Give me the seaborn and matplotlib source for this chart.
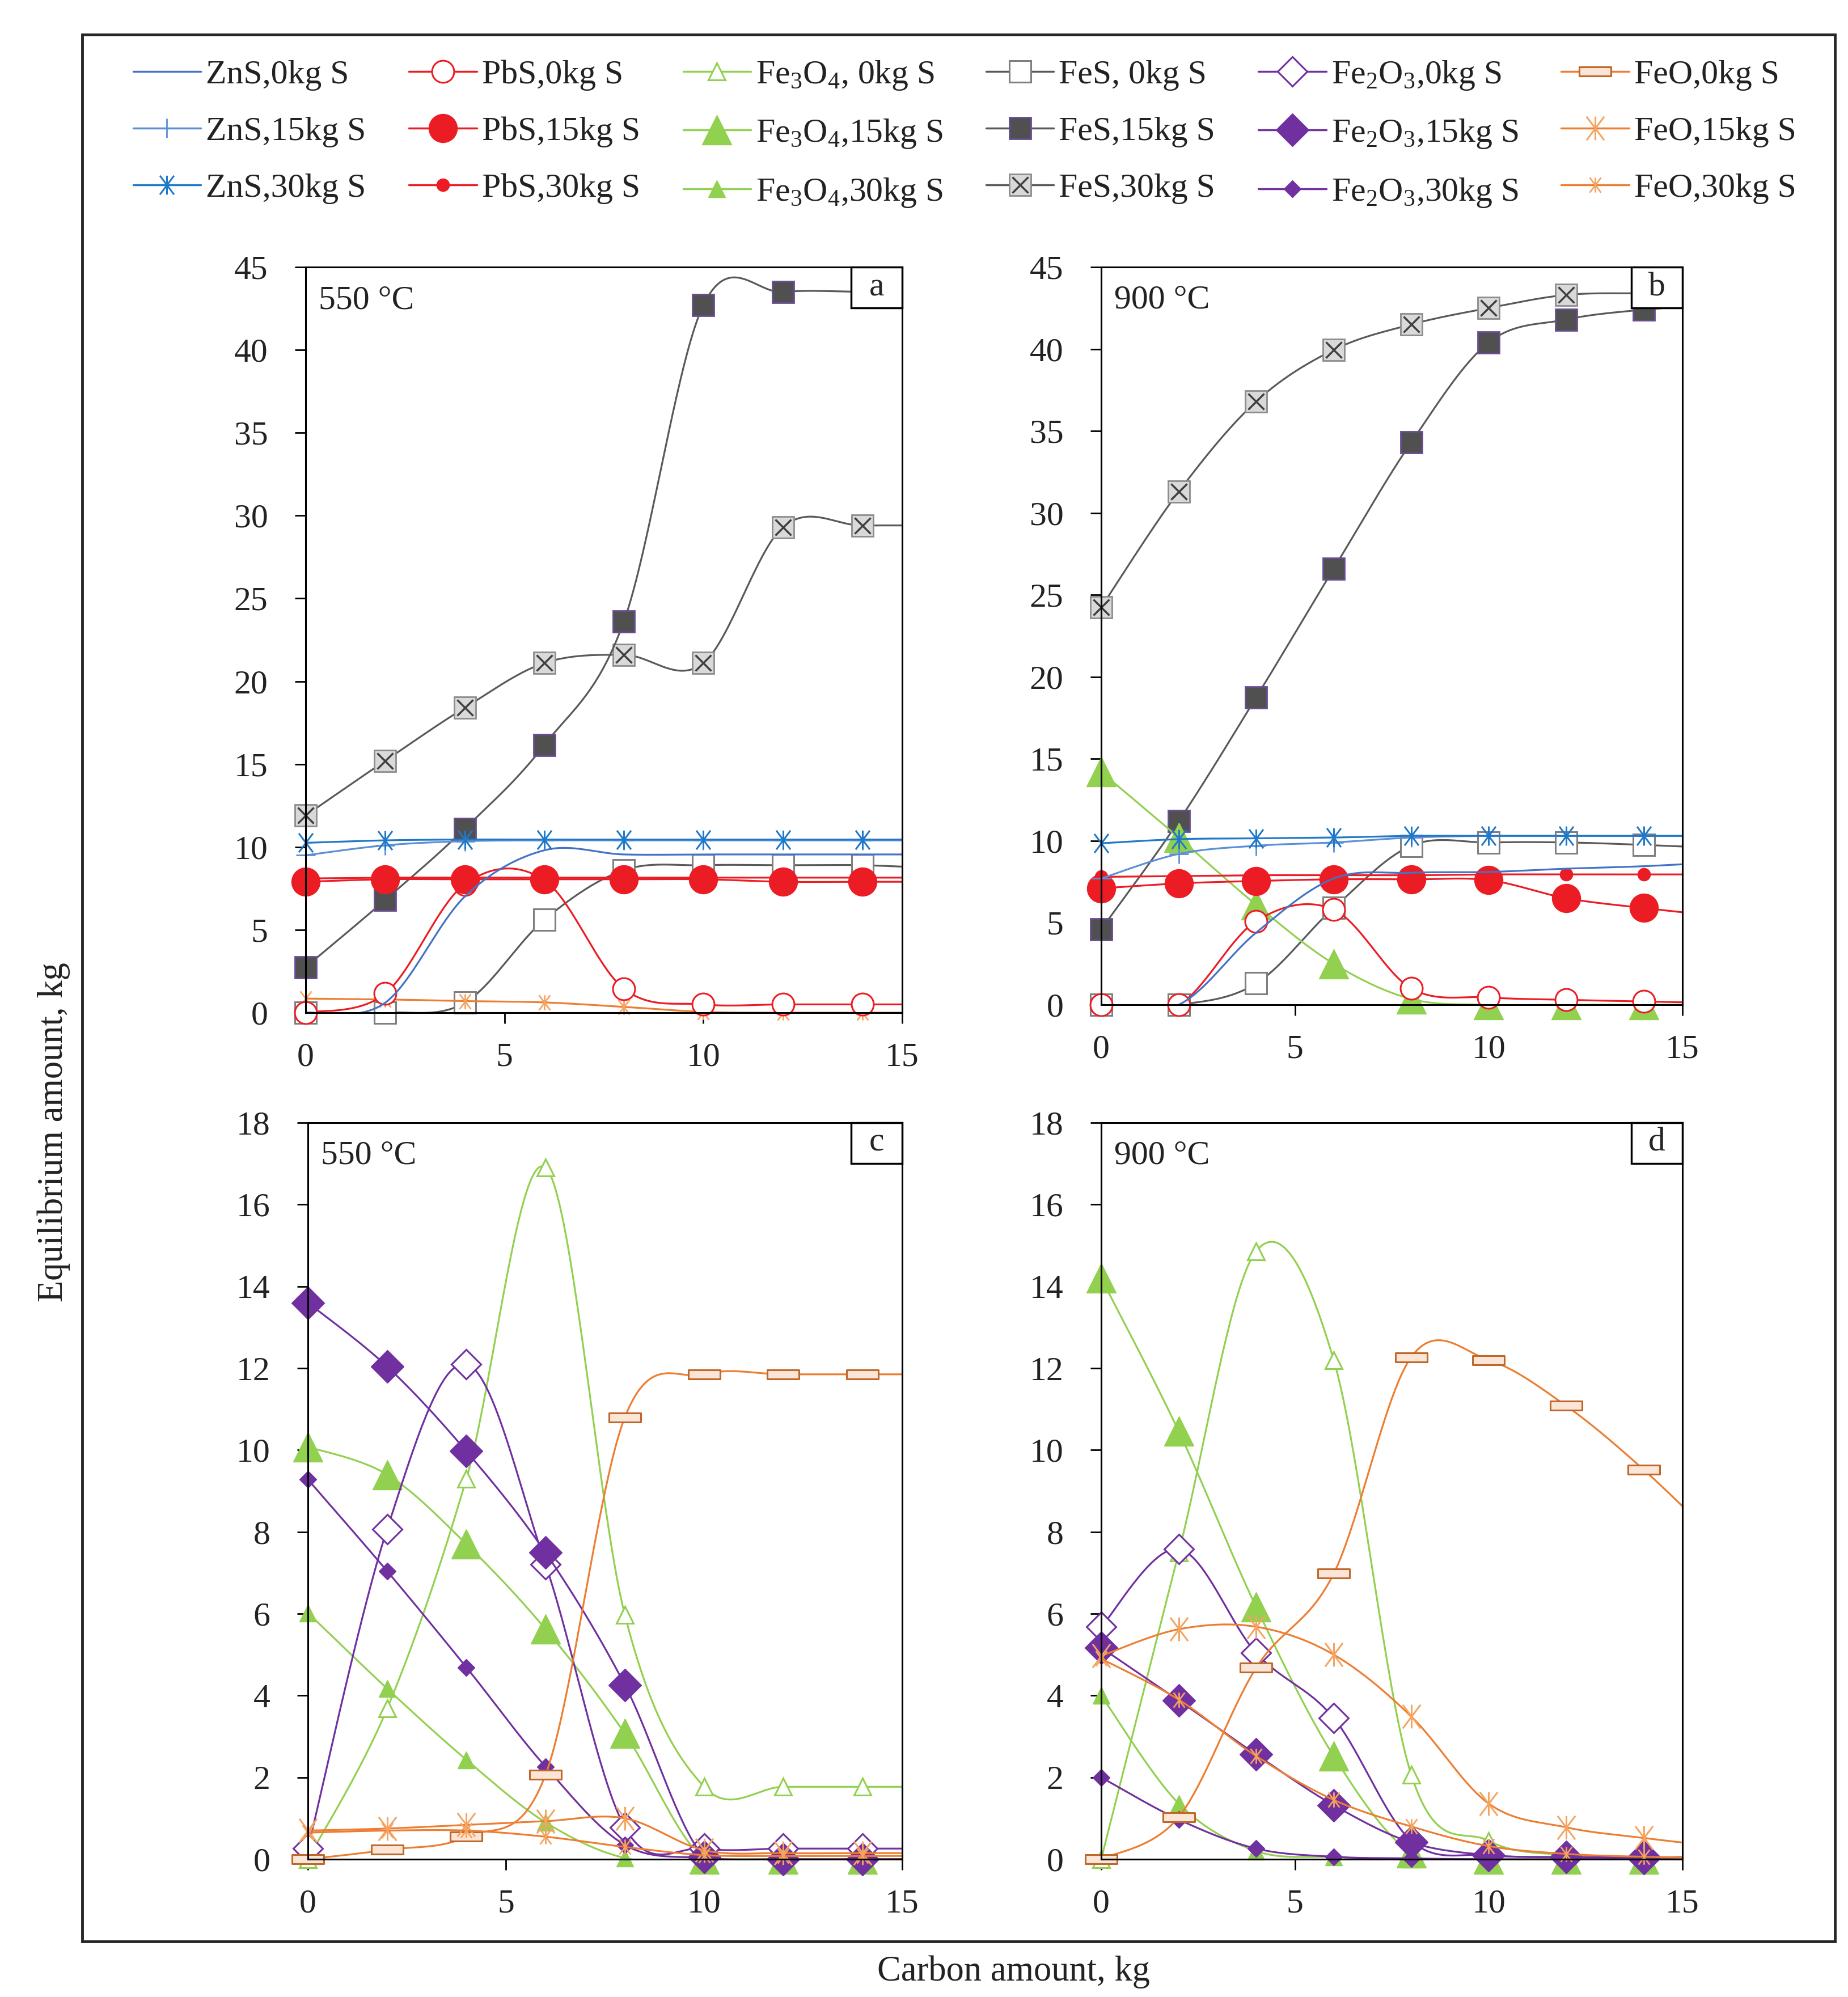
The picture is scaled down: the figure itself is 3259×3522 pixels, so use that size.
import numpy as np
import seaborn as sns
import matplotlib.pyplot as plt
from matplotlib.path import Path
from matplotlib.lines import Line2D
from matplotlib.patches import Rectangle

sns.set_style("white")
plt.rcParams['font.family'] = ['Liberation Serif', 'DejaVu Serif']
plt.rcParams['mathtext.fontset'] = 'custom'
plt.rcParams['mathtext.rm'] = 'Liberation Serif'

# carbon amount, kg (last point lies beyond the 15 kg axis limit)
carbon = [0, 2, 4, 6, 8, 10, 12, 14, 16]

# ---- a: 550 C, sulfides ----
a_zns0 = [0, 0.6, 7.0, 9.8, 9.55, 9.55, 9.55, 9.55, 9.55]
a_zns15 = [9.5, 10.1, 10.35, 10.4, 10.4, 10.4, 10.4, 10.4, 10.4]
a_zns30 = [10.25, 10.4, 10.45, 10.45, 10.45, 10.45, 10.45, 10.45, 10.45]
a_pbs0 = [0, 1.15, 7.75, 8.0, 1.45, 0.5, 0.5, 0.5, 0.5]
a_pbs15 = [7.9, 8.05, 8.05, 8.05, 8.05, 8.05, 7.9, 7.9, 7.9]
a_pbs30 = [8.1, 8.15, 8.15, 8.15, 8.15, 8.15, 8.15, 8.15, 8.15]
a_fes0 = [0, 0, 0.6, 5.6, 8.6, 8.9, 8.9, 8.9, 8.7]
a_fes15 = [2.75, 6.8, 11.1, 16.15, 23.6, 42.7, 43.5, 43.5, 43.4]
a_fes30 = [11.9, 15.2, 18.4, 21.1, 21.6, 21.1, 29.3, 29.4, 29.4]
a_feo30 = [0.85, 0.8, 0.7, 0.62, 0.35, 0.05, 0, 0, 0]

# ---- b: 900 C, sulfides ----
b_zns0 = [0, 0, 4.4, 7.7, 8.05, 8.1, 8.3, 8.45, 8.7]
b_zns15 = [7.7, 9.2, 9.7, 9.9, 10.2, 10.3, 10.3, 10.3, 10.3]
b_zns30 = [9.85, 10.1, 10.15, 10.2, 10.3, 10.3, 10.3, 10.3, 10.3]
b_pbs0 = [0, 0, 5.1, 5.8, 1.0, 0.45, 0.3, 0.2, 0.1]
b_pbs15 = [7.1, 7.4, 7.55, 7.65, 7.65, 7.6, 6.5, 5.9, 5.4]
b_pbs30 = [7.8, 7.85, 7.9, 7.9, 7.9, 7.95, 7.95, 7.95, 7.95]
b_fe3o4_15 = [14.2, 10.2, 6.1, 2.5, 0.35, 0, 0, 0, 0]
b_fes0 = [0, 0, 1.3, 5.9, 9.7, 9.9, 9.9, 9.75, 9.55]
b_fes15 = [4.6, 11.2, 18.75, 26.6, 34.3, 40.4, 41.8, 42.4, 42.7]
b_fes30 = [24.25, 31.3, 36.8, 39.95, 41.5, 42.5, 43.3, 43.4, 43.4]

# ---- c: 550 C, iron oxides ----
c_fe3o4_0 = [0, 3.68, 9.3, 16.9, 5.97, 1.77, 1.77, 1.77, 1.77]
c_fe3o4_15 = [10.08, 9.4, 7.7, 5.62, 3.07, 0, 0, 0, 0]
c_fe3o4_30 = [6.02, 4.17, 2.43, 0.9, 0.03, 0, 0, 0, 0]
c_fe2o3_0 = [0.26, 8.07, 12.1, 7.2, 0.78, 0.26, 0.26, 0.26, 0.26]
c_fe2o3_15 = [13.6, 12.04, 9.97, 7.49, 4.26, 0.05, 0, 0, 0]
c_fe2o3_30 = [9.28, 7.04, 4.69, 2.26, 0.35, 0.03, 0, 0, 0]
c_feo0 = [0, 0.23, 0.55, 2.07, 10.8, 11.85, 11.85, 11.85, 11.85]
c_feo15 = [0.7, 0.75, 0.84, 0.93, 1.0, 0.22, 0.15, 0.15, 0.15]
c_feo30 = [0.65, 0.7, 0.7, 0.55, 0.3, 0.1, 0.08, 0.08, 0.08]

# ---- d: 900 C, iron oxides ----
d_fe3o4_0 = [0, 7.49, 14.86, 12.2, 2.07, 0.45, 0.1, 0.05, 0]
d_fe3o4_15 = [14.2, 10.46, 6.16, 2.52, 0.15, 0, 0, 0, 0]
d_fe3o4_30 = [4.0, 1.36, 0.2, 0.05, 0, 0, 0, 0, 0]
d_fe2o3_0 = [5.68, 7.58, 5.04, 3.45, 0.45, 0.1, 0.05, 0, 0]
d_fe2o3_15 = [5.17, 3.88, 2.56, 1.32, 0.41, 0.1, 0.05, 0.05, 0.05]
d_fe2o3_30 = [2.0, 0.97, 0.26, 0.06, 0.02, 0, 0, 0, 0]
d_feo0 = [0, 1.03, 4.68, 6.98, 12.27, 12.2, 11.08, 9.52, 7.7]
d_feo15 = [4.97, 5.62, 5.68, 5.0, 3.49, 1.36, 0.78, 0.52, 0.3]
d_feo30 = [4.9, 3.9, 2.52, 1.45, 0.8, 0.32, 0.13, 0.06, 0.03]

# custom marker shapes
star = Path([(0, -1), (0, 1), (-0.75, -1), (0.75, 1), (-0.75, 1), (0.75, -1)],
            [Path.MOVETO, Path.LINETO] * 3)
bar = Path([(-1, -0.28), (1, -0.28), (1, 0.28), (-1, 0.28), (-1, -0.28)],
           [Path.MOVETO, Path.LINETO, Path.LINETO, Path.LINETO, Path.CLOSEPOLY])

blue0, blue15, blue30 = '#4472c4', '#5b8fd6', '#1f78c8'
red = '#ec1c24'
green = '#92d050'
grey = '#595959'
purple = '#7030a0'
orange = '#ed7d31'
lorange = '#f4a460'

# series styles: label, line colour, list of marker layers
styles = {
    'zns0': ('ZnS,0kg S', blue0, []),
    'zns15': ('ZnS,15kg S', blue15, [dict(marker='+', ms=24, mec=blue15, mew=2)]),
    'zns30': ('ZnS,30kg S', blue30, [dict(marker=star, ms=24, mec=blue30, mfc='none', mew=2.2)]),
    'pbs0': ('PbS,0kg S', red, [dict(marker='o', ms=28, mec=red, mfc='white', mew=2.2)]),
    'pbs15': ('PbS,15kg S', red, [dict(marker='o', ms=36, mec=red, mfc=red, mew=1)]),
    'pbs30': ('PbS,30kg S', red, [dict(marker='o', ms=16, mec=red, mfc=red, mew=1)]),
    'fe3o4_0': ('Fe$_\\mathregular{3}$O$_\\mathregular{4}$, 0kg S', green,
                [dict(marker='^', ms=22, mec=green, mfc='white', mew=2.2)]),
    'fe3o4_15': ('Fe$_\\mathregular{3}$O$_\\mathregular{4}$,15kg S', green,
                 [dict(marker='^', ms=38, mec=green, mfc=green, mew=1)]),
    'fe3o4_30': ('Fe$_\\mathregular{3}$O$_\\mathregular{4}$,30kg S', green,
                 [dict(marker='^', ms=22, mec=green, mfc=green, mew=1)]),
    'fes0': ('FeS, 0kg S', grey, [dict(marker='s', ms=28, mec='#7f7f7f', mfc='white', mew=2.2)]),
    'fes15': ('FeS,15kg S', grey, [dict(marker='s', ms=28, mec='#6a4c93', mfc='#505050', mew=2)]),
    'fes30': ('FeS,30kg S', grey, [dict(marker='s', ms=28, mec='#8c8c8c', mfc='#d9d9d9', mew=2),
                                   dict(marker='x', ms=20, mec='#3f3f3f', mew=2.5)]),
    'fe2o3_0': ('Fe$_\\mathregular{2}$O$_\\mathregular{3}$,0kg S', purple,
                [dict(marker='D', ms=26, mec=purple, mfc='white', mew=2.2)]),
    'fe2o3_15': ('Fe$_\\mathregular{2}$O$_\\mathregular{3}$,15kg S', purple,
                 [dict(marker='D', ms=30, mec=purple, mfc=purple, mew=1)]),
    'fe2o3_30': ('Fe$_\\mathregular{2}$O$_\\mathregular{3}$,30kg S', purple,
                 [dict(marker='D', ms=15, mec=purple, mfc=purple, mew=1)]),
    'feo0': ('FeO,0kg S', orange, [dict(marker=bar, ms=40, mec='#c0672a', mfc='#fbe5d6', mew=2.2)]),
    'feo15': ('FeO,15kg S', orange, [dict(marker=star, ms=30, mec=lorange, mfc='none', mew=2.2)]),
    'feo30': ('FeO,30kg S', orange, [dict(marker=star, ms=19, mec=lorange, mfc='none', mew=2)]),
}


def smooth(xs, ys, n=40):
    # Excel-like smoothed line: Catmull-Rom control points, cubic Bezier segments
    px = np.concatenate([[xs[0]], xs, [xs[-1]]]).astype(float)
    py = np.concatenate([[ys[0]], ys, [ys[-1]]]).astype(float)
    t = np.linspace(0, 1, n)[:, None]
    out = []
    for i in range(len(xs) - 1):
        p0 = np.array([px[i], py[i]])
        p1 = np.array([px[i + 1], py[i + 1]])
        p2 = np.array([px[i + 2], py[i + 2]])
        p3 = np.array([px[i + 3], py[i + 3]])
        c1 = p1 + (p2 - p0) / 6
        c2 = p2 - (p3 - p1) / 6
        seg = ((1 - t) ** 3) * p1 + 3 * ((1 - t) ** 2) * t * c1 + 3 * (1 - t) * t ** 2 * c2 + t ** 3 * p2
        out.append(seg)
    out = np.vstack(out)
    return out[:, 0], out[:, 1]


def draw(ax, series):
    x = np.array(carbon, float)
    for k, (key, vals) in enumerate(series):
        label, col, layers = styles[key]
        y = np.array(vals, float)
        sx, sy = smooth(x, y)
        z = 2 + k * 0.02
        sns.lineplot(x=sx, y=sy, ax=ax, color=col, linewidth=2.3, estimator=None,
                     sort=False, legend=False, zorder=z)
        keep = x <= 15
        for lay in layers:
            ax.plot(x[keep], y[keep], linestyle='none', clip_on=False, zorder=z + 0.01, **lay)


fig = plt.figure(figsize=(32.59, 35.22), dpi=100)
W, H = 3259, 3522

panels = [
    ('a', '550 °C', [539, 1591, 471, 1786], 45, 5,
     [('fes30', a_fes30), ('fes15', a_fes15), ('fes0', a_fes0), ('feo30', a_feo30),
      ('pbs0', a_pbs0), ('pbs15', a_pbs15), ('pbs30', a_pbs30),
      ('zns0', a_zns0), ('zns15', a_zns15), ('zns30', a_zns30)]),
    ('b', '900 °C', [1942, 2967, 471, 1772], 45, 5,
     [('fes30', b_fes30), ('fes15', b_fes15), ('fes0', b_fes0), ('fe3o4_15', b_fe3o4_15),
      ('pbs0', b_pbs0), ('pbs15', b_pbs15), ('pbs30', b_pbs30),
      ('zns0', b_zns0), ('zns15', b_zns15), ('zns30', b_zns30)]),
    ('c', '550 °C', [543, 1591, 1980, 3279], 18, 2,
     [('fe3o4_0', c_fe3o4_0), ('fe3o4_15', c_fe3o4_15), ('fe3o4_30', c_fe3o4_30),
      ('fe2o3_0', c_fe2o3_0), ('fe2o3_15', c_fe2o3_15), ('fe2o3_30', c_fe2o3_30),
      ('feo0', c_feo0), ('feo15', c_feo15), ('feo30', c_feo30)]),
    ('d', '900 °C', [1942, 2967, 1980, 3279], 18, 2,
     [('fe3o4_0', d_fe3o4_0), ('fe3o4_15', d_fe3o4_15), ('fe3o4_30', d_fe3o4_30),
      ('fe2o3_0', d_fe2o3_0), ('fe2o3_15', d_fe2o3_15), ('fe2o3_30', d_fe2o3_30),
      ('feo0', d_feo0), ('feo15', d_feo15), ('feo30', d_feo30)]),
]

for tag, temp, (x0, x1, y0, y1), ymax, ystep, series in panels:
    ax = fig.add_axes([x0 / W, 1 - y1 / H, (x1 - x0) / W, (y1 - y0) / H])
    draw(ax, series)
    ax.set_xlim(0, 15)
    ax.set_ylim(0, ymax)
    ax.set_xticks([0, 5, 10, 15])
    ax.set_yticks(np.arange(0, ymax + 1, ystep))
    ax.tick_params(axis='both', direction='out', length=14, width=2, labelsize=43,
                   color='black', labelcolor='#222222')
    ax.tick_params(axis='y', pad=34, left=True)
    ax.tick_params(axis='x', pad=24, bottom=True)
    for s in ax.spines.values():
        s.set_color('black')
        s.set_linewidth(2.2)
        s.set_zorder(5)
    ax.text(0.022, 0.955, temp, transform=ax.transAxes, fontsize=43, va='center',
            ha='left', color='#222222', zorder=10)
    bw = 90 / (x1 - x0)
    bh = 72 / (y1 - y0)
    ax.add_patch(Rectangle((1 - bw, 1 - bh), bw, bh, transform=ax.transAxes,
                           facecolor='white', edgecolor='black', lw=2.5,
                           clip_on=False, zorder=20))
    ax.text(1 - bw / 2, 1 - bh / 2, tag, transform=ax.transAxes, fontsize=43,
            ha='center', va='center', zorder=21)

# legend built column by column (species x sulfur addition)
order = ['zns0', 'zns15', 'zns30', 'pbs0', 'pbs15', 'pbs30',
         'fe3o4_0', 'fe3o4_15', 'fe3o4_30', 'fes0', 'fes15', 'fes30',
         'fe2o3_0', 'fe2o3_15', 'fe2o3_30', 'feo0', 'feo15', 'feo30']
handles, labels = [], []
for key in order:
    label, col, layers = styles[key]
    if not layers:
        h = Line2D([], [], color=col, lw=2.5)
    else:
        parts = []
        for i, lay in enumerate(layers):
            parts.append(Line2D([], [], color=col, lw=2.5 if i == 0 else 0, **lay))
        h = parts[0] if len(parts) == 1 else tuple(parts)
    handles.append(h)
    labels.append(label)

fig.legend(handles, labels, ncol=6, loc='upper left', bbox_to_anchor=(0.072, 0.8705, 0.9, 0.1),
           mode='expand', frameon=False, fontsize=43, handlelength=2.0, handletextpad=0.15,
           labelspacing=0.76, borderpad=0, borderaxespad=0, labelcolor='#222222')

# outer frame around the panel block
fig.patches.append(Rectangle((0.0445, 0.0278), 0.9485, 0.955, transform=fig.transFigure,
                             fill=False, lw=3.5, edgecolor='#262626'))

fig.text(0.029, 0.433, 'Equilibrium amount, kg', rotation=90, fontsize=45,
         ha='center', va='center', color='#222222')
fig.text(0.5486, 0.0125, 'Carbon amount, kg', fontsize=45, ha='center', va='center',
         color='#222222')

fig.savefig('out.png', dpi=100, facecolor='white')
